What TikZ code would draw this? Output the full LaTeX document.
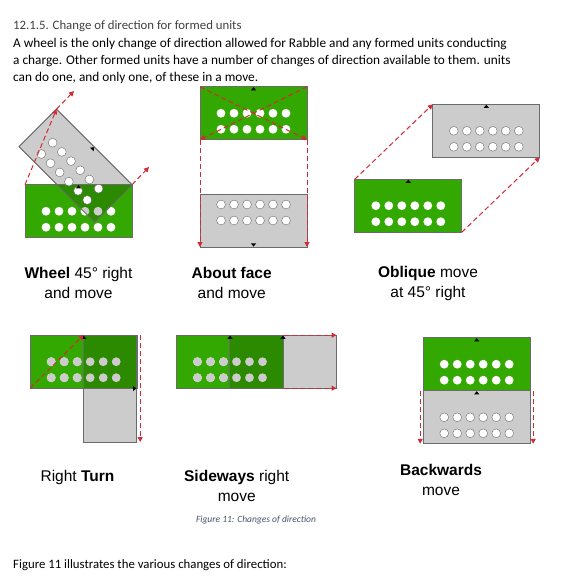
\documentclass[tikz,border=0pt]{standalone}
\usepackage{fontspec}
\setmainfont{Carlito}
\newfontfamily\arialfont{Liberation Sans}
\usetikzlibrary{arrows.meta}

\definecolor{unitgreen}{HTML}{33A800}
\definecolor{overlapgreen}{HTML}{2B8A00}
\definecolor{unitgrey}{HTML}{CCCCCC}
\definecolor{edgegrey}{HTML}{6B6B6B}
\definecolor{movered}{HTML}{D42A35}
\definecolor{captionblue}{HTML}{44546A}

\tikzset{
  unit/.style={draw=edgegrey, line width=0.7pt, minimum width=107pt, minimum height=53pt, inner sep=0pt, outer sep=0pt},
  green unit/.style={unit, fill=unitgreen},
  grey unit/.style={unit, fill=unitgrey},
  rim/.style={draw=edgegrey, line width=0.7pt},
  move/.style={draw=movered, line width=1pt, dash pattern=on 5pt off 3pt, -{Triangle[length=5pt,width=5pt]}},
  label/.style={font=\arialfont\fontsize{15.5}{20}\selectfont, align=center, anchor=base},
  man/.style={fill=white},
  man grey/.style={fill=white, draw=edgegrey, line width=0.4pt},
  man hid/.style={fill=unitgrey},
}

% two ranks of six figures, centre of the block at (0,0), front is up
\newcommand{\ranks}[1]{\foreach \px in {-32.5,-19.5,-6.5,6.5,19.5,32.5} {\foreach \py in {0,16} {\path[#1] (\px,\py) circle (4.4);}}}
% little black arrow at the front of a block
\newcommand{\front}{\fill (-2.6,3.6) -- (2.6,3.6) -- (0,0.4) -- cycle;}

\begin{document}
\begin{tikzpicture}[x=1pt,y=-1pt]
\useasboundingbox (0,0) rectangle (565,585);

% Heading and text (base of a multi-line node is its last line)
\node[anchor=base west, inner sep=0pt, text=black!75, font=\fontsize{12.8}{17}\selectfont] (title) at (13,29.3) {12.1.5. Change of direction for formed units};
\node[anchor=base west, inner sep=0pt, align=left, font=\fontsize{13.3}{17}\selectfont] (intro) at (13,81.3) {A wheel is the only change of direction allowed for Rabble and any formed units conducting\\a charge. Other formed units have a number of changes of direction available to them. units\\can do one, and only one, of these in a move.};

% Wheel 45 right
\node[green unit] (wg) at (78.5,211.25) {};
\begin{scope}[shift={(wg.center)}] \ranks{man} \end{scope}
\node[grey unit, rotate=-45] (wr) at (75.6,165.7) {};
\begin{scope}
\clip (wg.north west) rectangle (wg.south east);
\clip (wr.north west) -- (wr.north east) -- (wr.south east) -- (wr.south west) -- cycle;
\fill[overlapgreen] (wg.north west) rectangle (wg.south east);
\begin{scope}[shift={(wg.center)}] \ranks{man hid} \end{scope}
\end{scope}
\draw[rim] (wg.north west) rectangle (wg.south east);
\draw[rim] (wr.north west) -- (wr.north east) -- (wr.south east) -- (wr.south west) -- cycle;
\begin{scope}[shift={(wr.center)}, rotate=-45] \ranks{man grey} \end{scope}
\begin{scope}[shift={(wg.north)}] \front \end{scope}
\begin{scope}[shift={(wr.north)}, rotate=-45] \front \end{scope}
\coordinate (wl) at (74,91);
\coordinate (wf) at (149,167);
\draw[move] (wg.north west) -- (wr.north west);
\draw[move] (wr.north west) -- (wl);
\draw[move] (wg.north east) -- (wf);

% About face
\node[green unit] (afg) at (253.5,113.25) {};
\begin{scope}[shift={(afg.center)}] \ranks{man} \end{scope}
\node[grey unit] (afr) at (253.5,220.5) {};
\begin{scope}[shift={(afr.center)}, rotate=180] \ranks{man grey} \end{scope}
\begin{scope}[shift={(afg.north)}] \front \end{scope}
\begin{scope}[shift={(afr.south)}, rotate=180] \front \end{scope}
\draw[move] (afg.north west) -- (afg.south east);
\draw[move] (afg.north east) -- (afg.south west);
\draw[move] (afg.south west) -- (afr.south west);
\draw[move] (afg.south east) -- (afr.south east);

% Oblique
\node[green unit] (og) at (408.3,205.7) {};
\begin{scope}[shift={(og.center)}] \ranks{man} \end{scope}
\node[grey unit] (or) at (486.3,130.8) {};
\begin{scope}[shift={(or.center)}] \ranks{man grey} \end{scope}
\begin{scope}[shift={(og.north)}] \front \end{scope}
\begin{scope}[shift={(or.north)}] \front \end{scope}
\draw[move] (og.north west) -- (or.north west);
\draw[move] (og.south east) -- (or.south east);

% Labels - top row
\node[label] (lwheel) at (78.5,298.3) {\textbf{Wheel} 45° right\\and move};
\node[label] (lface) at (231.7,298.3) {\textbf{About face}\\and move};
\node[label] (loblique) at (428,297.5) {\textbf{Oblique} move\\at 45° right};

% Right turn
\node[green unit] (rg) at (83.7,361.7) {};
\begin{scope}[shift={(rg.center)}] \ranks{man} \end{scope}
\node[grey unit, minimum width=53pt, minimum height=107pt] (rr) at (110.2,388.5) {};
\begin{scope}
\clip (rg.north west) rectangle (rg.south east);
\fill[overlapgreen] (rr.north west) rectangle (rr.south east);
\begin{scope}[shift={(rg.center)}] \ranks{man hid} \end{scope}
\end{scope}
\draw[rim] (rg.north west) rectangle (rg.south east);
\draw[rim] (rr.north west) rectangle (rr.south east);
\begin{scope}[shift={(rg.north)}] \front \end{scope}
\begin{scope}[shift={(rr.east)}, rotate=-90] \front \end{scope}
\draw[move] (rg.south west) -- (rr.north west);
\draw[move] ([xshift=3.5pt]rr.north east) -- ([xshift=3.5pt]rr.south east);

% Sideways
\node[green unit] (sg) at (230,361.7) {};
\begin{scope}[shift={(sg.center)}] \ranks{man} \end{scope}
\node[grey unit] (sr) at (283,361.7) {};
\begin{scope}
\clip (sg.north west) rectangle (sg.south east);
\fill[overlapgreen] (sr.north west) rectangle (sr.south east);
\begin{scope}[shift={(sg.center)}] \ranks{man hid} \end{scope}
\end{scope}
\draw[rim] (sg.north west) rectangle (sg.south east);
\draw[rim] (sr.north west) rectangle (sr.south east);
\begin{scope}[shift={(sg.north)}] \front \end{scope}
\begin{scope}[shift={(sr.north)}] \front \end{scope}
\draw[move] (sg.north east) -- (sr.north east);
\draw[move] (sg.south east) -- (sr.south east);

% Backwards
\node[green unit] (bg) at (476.7,364.2) {};
\begin{scope}[shift={(bg.center)}] \ranks{man} \end{scope}
\node[grey unit] (br) at (476.7,417.3) {};
\begin{scope}[shift={(br.center)}] \ranks{man grey} \end{scope}
\begin{scope}[shift={(bg.north)}] \front \end{scope}
\begin{scope}[shift={(br.north)}] \front \end{scope}
\draw[move] ([xshift=-3pt]bg.south west) -- ([xshift=-3pt]br.south west);
\draw[move] ([xshift=3pt]bg.south east) -- ([xshift=3pt]br.south east);

% Labels - bottom row
\node[label] (lturn) at (77.5,481.7) {Right \textbf{Turn}};
\node[label] (lside) at (236.7,501.7) {\textbf{Sideways} right\\move};
\node[label] (lback) at (441,495) {\textbf{Backwards}\\move};

% Caption and text below
\node[anchor=base, inner sep=0pt, text=captionblue, font=\itshape\fontsize{9.5}{11}\selectfont] (caption) at (256,522.7) {Figure 11: Changes of direction};
\node[anchor=base west, inner sep=0pt, font=\fontsize{12.8}{17}\selectfont] (after) at (13,568.3) {Figure 11 illustrates the various changes of direction:};
\end{tikzpicture}
\end{document}
